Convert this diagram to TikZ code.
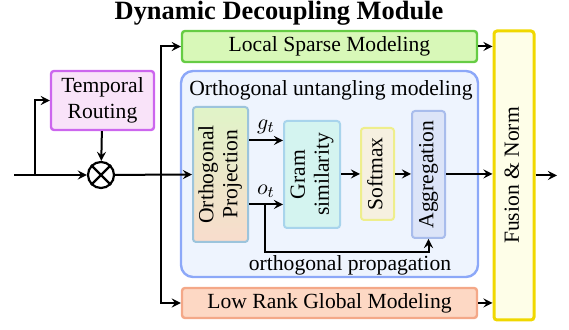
\documentclass[tikz,border=0pt]{standalone}
\usepackage{fontspec}
\setmainfont{Liberation Serif}
\usetikzlibrary{calc}

\definecolor{lsfill}{HTML}{D8F8B8}
\definecolor{lsdraw}{HTML}{66CC44}
\definecolor{fnfill}{HTML}{FEFEE8}
\definecolor{fndraw}{HTML}{F0D800}
\definecolor{trfill}{HTML}{F9E3F9}
\definecolor{trdraw}{HTML}{CC66EE}
\definecolor{oufill}{HTML}{EEF4FE}
\definecolor{oudraw}{HTML}{8CA8F8}
\definecolor{optop}{HTML}{E0F4C8}
\definecolor{opbot}{HTML}{F8DCCC}
\definecolor{opdraw}{HTML}{9CC4DC}
\definecolor{gsfill}{HTML}{D4F4F0}
\definecolor{gsdraw}{HTML}{A8D4EC}
\definecolor{smfill}{HTML}{F6F0E0}
\definecolor{smdraw}{HTML}{EEEE8C}
\definecolor{agfill}{HTML}{DCE4F8}
\definecolor{agdraw}{HTML}{A8BCEC}
\definecolor{lrfill}{HTML}{FDD8C4}
\definecolor{lrdraw}{HTML}{F4A888}

\newcommand{\vtext}[1]{\rotatebox{90}{\begin{tabular}{@{}c@{}}#1\end{tabular}}}

\begin{document}
\begin{tikzpicture}[
        x=0.5pt, y=-0.5pt,
        every node/.style={
        font=\fontsize{10.8}{12}\selectfont,
        inner sep=0pt,
        },
        box/.style={
        draw,
        shape=rectangle,
        rounded corners=1.5pt,
        line width=1.2pt,
        },
        inbox/.style={
        box,
        line width=1pt,
        },
        arr/.style={-stealth, line width=1pt},
        line/.style={line width=1.1pt}
      ]
        \useasboundingbox (0, 0) rectangle (569, 330);

        \node[font=\fontsize{13.2}{15}\selectfont\bfseries] (title) at (279, 13) {Dynamic Decoupling Module};

        \node[box, fill=oufill, draw=oudraw, rounded corners=6pt, minimum width=148.5pt, minimum height=103pt] (untangle) at (329.5, 174) {};
        \node[anchor=west] (untanglelbl) at (189, 90) {Orthogonal untangling modeling};

        \node[box, fill=lsfill, draw=lsdraw, minimum width=147.5pt, minimum height=15.5pt] (local) at (329.5, 46.5) {Local Sparse Modeling};
        \node[box, fill=lrfill, draw=lrdraw, minimum width=147.5pt, minimum height=15pt] (lowrank) at (329.5, 303) {Low Rank Global Modeling};
        \node[box, fill=fnfill, draw=fndraw, line width=1.5pt, minimum width=20pt, minimum height=144.5pt] (fusion) at (514, 175.5) {\vtext{Fusion \& Norm}};
        \node[box, fill=trfill, draw=trdraw, minimum width=51.5pt, minimum height=29.5pt, align=center] (routing) at (102.5, 100.5) {Temporal\\[1pt]Routing};
        \node[draw, circle, line width=1.1pt, minimum size=13pt] (prod) at (101, 175) {};
        \draw[line] (prod.north west) -- (prod.south east);
        \draw[line] (prod.north east) -- (prod.south west);

        \node[inbox, top color=optop, bottom color=opbot, draw=opdraw, minimum width=27.5pt, minimum height=67.5pt] (proj) at (220.5, 174.5) {\vtext{Orthogonal\\Projection}};
        \node[inbox, fill=gsfill, draw=gsdraw, minimum width=28pt, minimum height=53.5pt] (gram) at (312, 174.5) {\vtext{Gram\\similarity}};
        \node[inbox, fill=smfill, draw=smdraw, minimum width=16.5pt, minimum height=46pt] (softmax) at (377.5, 174) {\vtext{Softmax}};
        \node[inbox, fill=agfill, draw=agdraw, minimum width=16.5pt, minimum height=63.5pt] (aggr) at (428.5, 174.5) {\vtext{Aggregation}};

        \coordinate (in) at (14, 175);
        \coordinate (tap) at (35, 175);
        \coordinate (split) at (161, 175);
        \coordinate (ot) at (265, 205);
        \coordinate (out) at (557, 175.5);

        \draw[arr] (in) -- (prod.west);
        \draw[arr] (tap) |- (routing.west);
        \draw[arr] (routing) -- (prod);
        \draw[arr] (prod) -- (proj.west);
        \draw[arr] (split) |- (local.west);
        \draw[arr] (split) |- (lowrank.west);

        \draw[arr] ([yshift=17pt]proj.east) -- ([yshift=17pt]gram.west) node[midway, above=3pt] {$g_t$};
        \draw[arr] ([yshift=-15pt]proj.east) -- ([yshift=-15pt]gram.west) node[midway, above=3pt] {$o_t$};
        \draw[arr] (ot) |- ([yshift=-6.5pt]aggr.south) -- (aggr.south);
        \node (proplbl) at (350, 265) {orthogonal propagation};

        \draw[arr] (gram.east |- softmax) -- (softmax);
        \draw[arr] (softmax) -- (aggr.west |- softmax);
        \draw[arr] (aggr.east |- softmax) -- (fusion.west |- softmax);
        \draw[arr] (local.east) -- (local.east -| fusion.west);
        \draw[arr] (lowrank.east) -- (lowrank.east -| fusion.west);
        \draw[arr] (fusion.east) -- (out);
      \end{tikzpicture}
\end{document}
